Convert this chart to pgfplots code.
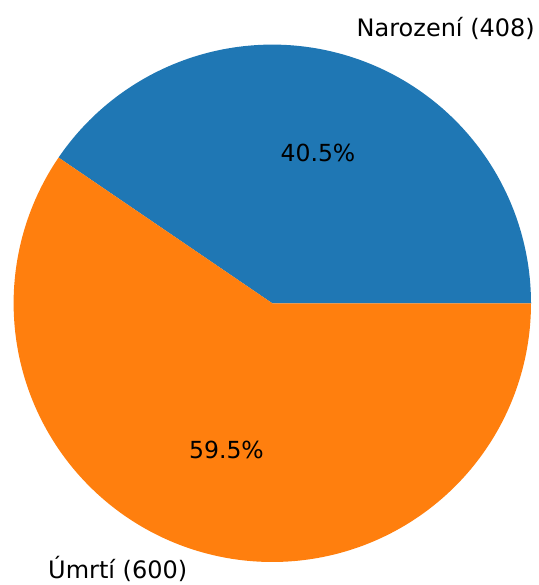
\documentclass[border=0pt]{standalone}
\usepackage{fontspec}
\setmainfont{DejaVu Sans}
\usepackage{pgfplots}
\usepackage{pgfplotstable}
\pgfplotsset{compat=1.18}
\definecolor{pieblue}{HTML}{1F77B4}
\definecolor{pieorange}{HTML}{FF7F0E}
\pgfplotstableread{
value
408
600
}\piedata
\def\cx{272.3}
\def\cy{281.7}
\def\rr{258.7}
\begin{document}%
\begin{tikzpicture}
\pgfplotstablegetelem{0}{value}\of\piedata \let\va\pgfplotsretval
\pgfplotstablegetelem{1}{value}\of\piedata \let\vb\pgfplotsretval
\pgfmathsetmacro\fracA{\va/(\va+\vb)}
\pgfmathsetmacro\angA{360*\fracA}
\begin{axis}[
  width=538pt, height=585pt, scale only axis,
  xmin=0, xmax=538, ymin=0, ymax=585,
  hide axis, clip=false,
]
\addplot[draw=none, fill=pieblue, domain=0:\angA, samples=150, variable=\t]
  ({\cx+\rr*cos(\t)},{\cy+\rr*sin(\t)}) -- (axis cs:\cx,\cy) -- cycle;
\addplot[draw=none, fill=pieorange, domain=\angA:360, samples=200, variable=\t]
  ({\cx+\rr*cos(\t)},{\cy+\rr*sin(\t)}) -- (axis cs:\cx,\cy) -- cycle;
\node[font=\fontsize{24}{28}\selectfont, anchor=base west, inner sep=0pt] at (axis cs:356.5,548.5) {Narození (408)};
\node[font=\fontsize{24}{28}\selectfont, anchor=base east, inner sep=0pt] at (axis cs:187.5,6.5) {Úmrtí (600)};
\node[font=\fontsize{23.5}{28}\selectfont, anchor=base, inner sep=0pt] at (axis cs:318,423.5) {40.5\%};
\node[font=\fontsize{23.5}{28}\selectfont, anchor=base, inner sep=0pt] at (axis cs:226.5,126.5) {59.5\%};
\end{axis}
\pgfresetboundingbox
\path (current axis.south west) rectangle (current axis.north east);
\end{tikzpicture}%
\end{document}
